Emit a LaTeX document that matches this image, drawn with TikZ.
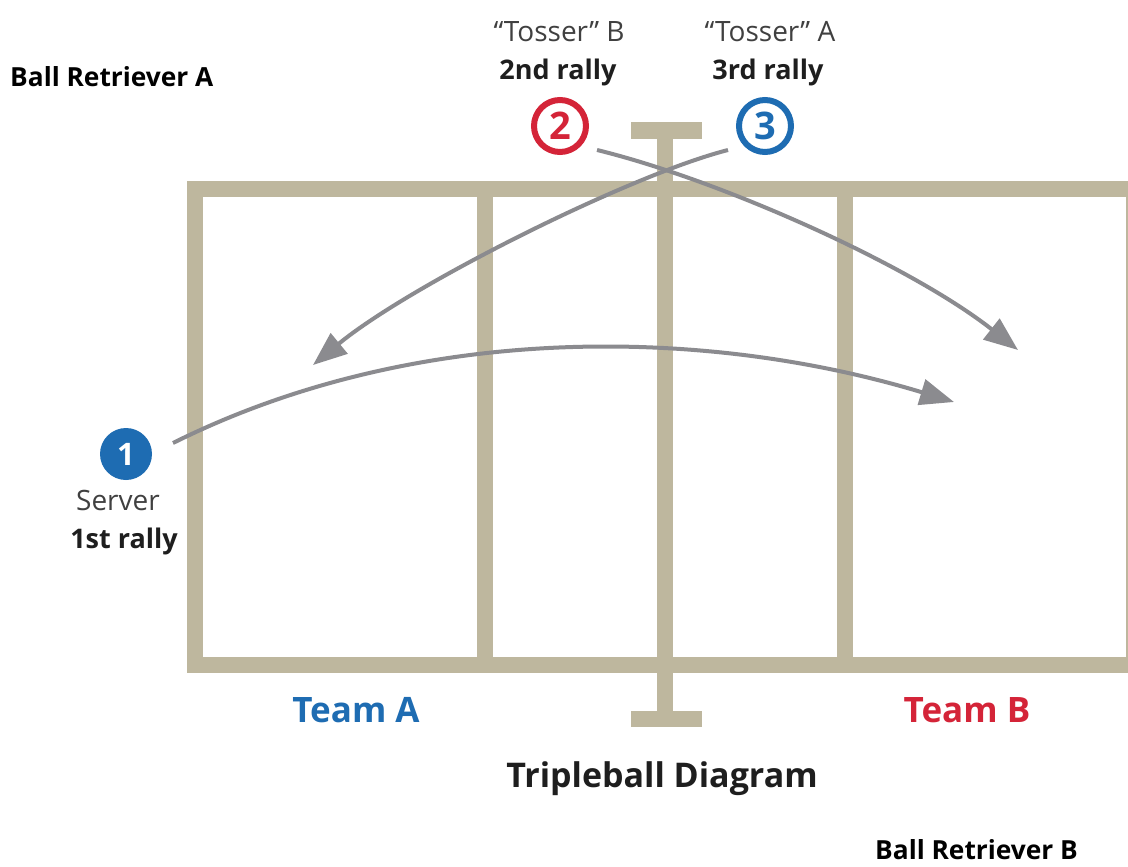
\documentclass[tikz,border=0pt]{standalone}
\usepackage{fontspec}
\setmainfont{Open Sans}
\usetikzlibrary{arrows.meta}

\definecolor{courttan}{RGB}{190,183,158}
\definecolor{flightgray}{RGB}{139,139,143}
\definecolor{teamblue}{RGB}{30,108,178}
\definecolor{teamred}{RGB}{212,36,56}
\definecolor{labeldark}{RGB}{30,30,30}
\definecolor{labelsoft}{RGB}{64,64,64}

\tikzset{
  court/.style={draw=courttan, line width=15.5pt},
  flight/.style={draw=flightgray, line width=4pt,
                 -{Triangle[length=34pt,width=26pt]}},
  ringred/.style={circle, draw=teamred, line width=6pt, minimum size=52pt,
                  inner sep=0pt, fill=white, text=teamred,
                  font=\fontsize{38}{38}\selectfont\bfseries},
  ringblue/.style={circle, draw=teamblue, line width=6pt, minimum size=52pt,
                   inner sep=0pt, fill=white, text=teamblue,
                   font=\fontsize{38}{38}\selectfont\bfseries},
  dotblue/.style={circle, fill=teamblue, minimum size=52pt, inner sep=0pt,
                  text=white, font=\fontsize{31}{31}\selectfont\bfseries},
  rolelabel/.style={anchor=base, inner sep=0pt, text=labelsoft,
                    font=\fontsize{28}{28}\selectfont},
  rallylabel/.style={anchor=base, inner sep=0pt, text=labeldark,
                     font=\fontsize{27}{27}\selectfont\bfseries},
  teamlabel/.style={anchor=base, inner sep=0pt,
                    font=\fontsize{35}{35}\selectfont\bfseries},
  retriever/.style={anchor=base west, inner sep=0pt, text=black,
                    font=\fontsize{26.3}{26.3}\selectfont\bfseries},
}

\begin{document}
\begin{tikzpicture}[x=1pt, y=-1pt]
  \useasboundingbox (0,0) rectangle (1128,867);
  \fill[white] (0,0) rectangle (1128,867);

  % court outline and the two attack lines
  \draw[court] (195,189) rectangle (1134,665);
  \draw[court] (485,189) -- (485,665);
  \draw[court] (845,189) -- (845,665);

  % net with its posts
  \draw[court] (665,130) -- (665,719);
  \draw[court, line width=16.5pt] (631,130.5) -- (702,130.5);
  \draw[court, line width=16.5pt] (631,719) -- (702,719);

  % players
  \node[dotblue]  (c1) at (126,454) {1};
  \node[ringred]  (c2) at (560,126) {2};
  \node[ringblue] (c3) at (765,126) {3};

  % start and landing points of the three rallies
  \coordinate (s1) at (173,443);
  \coordinate (t1) at (954,402);
  \coordinate (s2) at (597,150);
  \coordinate (t2) at (1018,350);
  \coordinate (s3) at (728,150);
  \coordinate (t3) at (313,365);

  \draw[flight] (s1) .. controls (420,320) and (710,328) .. (t1);
  \draw[flight] (s2) .. controls (720,180) and (910,265) .. (t2);
  \draw[flight] (s3) .. controls (630,175) and (410,285) .. (t3);

  % labels
  \node[rolelabel]  (tb) at (559,42) {“Tosser” B};
  \node[rallylabel] (rb) at (558,80) {2nd rally};
  \node[rolelabel]  (ta) at (770,42) {“Tosser” A};
  \node[rallylabel] (ra) at (768,80) {3rd rally};
  \node[rolelabel]  (sv) at (118,510) {Server};
  \node[rallylabel] (r1) at (124,548) {1st rally};

  \node[teamlabel, text=teamblue] (teamA) at (356,722) {Team A};
  \node[teamlabel, text=teamred]  (teamB) at (967,722) {Team B};

  \node[anchor=base, inner sep=0pt, text=labeldark,
        font=\fontsize{34}{34}\selectfont\bfseries] (title) at (662,787)
        {Tripleball Diagram};

  \node[retriever] (brA) at (10,87)  {Ball Retriever A};
  \node[retriever] (brB) at (875,859) {Ball Retriever B};
\end{tikzpicture}
\end{document}
